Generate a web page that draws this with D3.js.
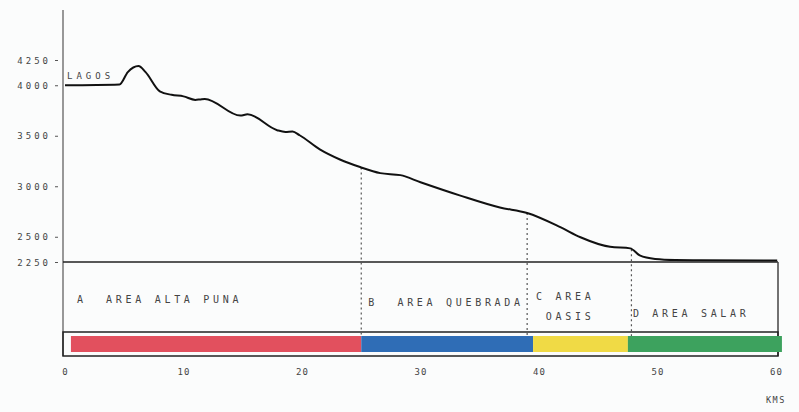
<!DOCTYPE html>
<html>
<head>
<meta charset="utf-8">
<script src="https://cdn.jsdelivr.net/npm/d3@7"></script>
<style>
  body { margin: 0; background: #fbfcfc; }
  text { font-family: "DejaVu Sans Mono", monospace; fill: #444; }
</style>
</head>
<body>
<svg id="chart" width="799" height="412"></svg>
<script>
// profile: distance (km) vs elevation (m)
const km = [0, 4.6, 5.3, 6.2, 6.8, 8.0, 9.0, 10.0, 11.0, 11.4, 11.8, 14.8, 15.4, 17.9, 18.6, 19.2, 19.8,
            21.5, 23.2, 24.9, 26.6, 28.3, 30.0, 33.3, 36.7, 39.0, 41.8, 43.5, 46.0, 47.7, 48.5, 49.8,
            51.5, 53.6, 60.1];
const elev = [4000, 4008, 4130, 4190, 4130, 3940, 3905, 3890, 3855, 3860, 3865, 3700, 3712, 3555, 3538, 3542, 3505,
              3365, 3265, 3190, 3130, 3110, 3040, 2910, 2790, 2735, 2595, 2495, 2400, 2385, 2315, 2280,
              2270, 2268, 2265];

const yTicks = [4250, 4000, 3500, 3000, 2500, 2250];
const yTickLabels = ["4250", "4000", "3500", "3000", "2500", "2250"];
const xTicks = [0, 10, 20, 30, 40, 50, 60];

// zones along the profile
const zoneStart = [0.5, 25, 39.5, 47.5];
const zoneEnd = [25, 39.5, 47.5, 60.5];
const zoneColor = ["#e2505e", "#2f6db6", "#f0da45", "#3da25e"];
const zoneLabel = [["A  AREA ALTA PUNA"], ["B  AREA QUEBRADA"], ["C AREA", " OASIS"], ["D AREA SALAR"]];
const dividers = [25, 39, 47.8];

const width = 799, height = 412;
const x = d3.scaleLinear([0, 60], [65, 776]);
const y = d3.scaleLinear([2250, 4250], [262, 60]);

const svg = d3.select("#chart");

// y axis
const yAxis = d3.axisLeft(y).tickValues(yTicks).tickSize(3)
  .tickFormat((d, i) => yTickLabels[i]);
svg.append("g")
  .attr("transform", "translate(63,0)")
  .call(yAxis)
  .call(g => g.select(".domain").remove())
  .call(g => g.selectAll(".tick line").attr("stroke", "#555").attr("x1", -8).attr("x2", -5))
  .call(g => g.selectAll(".tick text").attr("font-size", 9).attr("x", -12)
    .attr("letter-spacing", 3).attr("dy", "0.35em")
    .style("font-family", "DejaVu Sans Mono").attr("fill", "#444"));
svg.append("line")
  .attr("x1", 63).attr("x2", 63).attr("y1", 10).attr("y2", 356)
  .attr("stroke", "#777").attr("stroke-width", 1.5);

// baseline box
svg.append("line")
  .attr("x1", 63).attr("x2", 778).attr("y1", y(2250)).attr("y2", y(2250))
  .attr("stroke", "#222").attr("stroke-width", 1.5);
svg.append("line")
  .attr("x1", 778).attr("x2", 778).attr("y1", y(2250)).attr("y2", 356)
  .attr("stroke", "#444").attr("stroke-width", 1.5);
svg.append("rect")
  .attr("x", 63).attr("y", 332).attr("width", 715).attr("height", 24)
  .attr("fill", "none").attr("stroke", "#222").attr("stroke-width", 1.5);

// zone bars
svg.append("g").selectAll("rect")
  .data(zoneStart)
  .join("rect")
  .attr("x", (d, i) => x(d))
  .attr("width", (d, i) => x(zoneEnd[i]) - x(d))
  .attr("y", 336).attr("height", 16)
  .attr("fill", (d, i) => zoneColor[i]);

// dividers
const lineY = d3.scaleLinear(km, elev);
svg.append("g").selectAll("line")
  .data(dividers)
  .join("line")
  .attr("x1", d => x(d)).attr("x2", d => x(d))
  .attr("y1", d => y(lineY(d))).attr("y2", 336)
  .attr("stroke", "#555").attr("stroke-width", 1.2)
  .attr("stroke-dasharray", "2,3");

// profile line
const profile = d3.line()
  .x((d, i) => x(km[i]))
  .y(d => y(d))
  .curve(d3.curveMonotoneX);
svg.append("path")
  .attr("d", profile(elev))
  .attr("fill", "none").attr("stroke", "#111").attr("stroke-width", 2);

// zone labels
const labelDx = [6, 7, 3, 5];
const labelY = [[303], [306], [300, 320], [317]];
zoneLabel.forEach((lines, i) => {
  lines.forEach((t, j) => {
    svg.append("text")
      .attr("x", x(zoneStart[i]) + labelDx[i])
      .attr("y", labelY[i][j])
      .attr("font-size", 10)
      .attr("letter-spacing", 3.7)
      .attr("xml:space", "preserve")
      .text(t);
  });
});

svg.append("text").attr("x", 67).attr("y", 79).attr("font-size", 9)
  .attr("letter-spacing", 4).text("LAGOS");

// x axis labels
const xAxis = d3.axisBottom(x).tickValues(xTicks).tickSize(0);
svg.append("g")
  .attr("transform", "translate(0,366)")
  .call(xAxis)
  .call(g => g.select(".domain").remove())
  .call(g => g.selectAll(".tick text").attr("font-size", 9).attr("letter-spacing", 1)
    .style("font-family", "DejaVu Sans Mono").attr("fill", "#555"));
svg.append("text").attr("x", 766).attr("y", 403).attr("font-size", 8.5)
  .attr("letter-spacing", 1.5).attr("fill", "#555").text("KMS");
</script>
</body>
</html>
